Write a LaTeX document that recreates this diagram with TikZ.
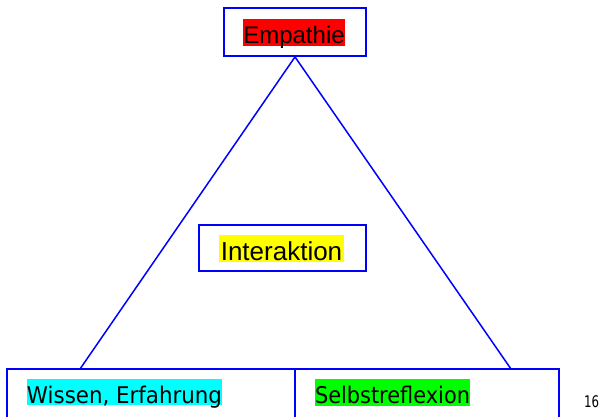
\documentclass[tikz,border=0pt]{standalone}
\usepackage{fontspec}
\setmainfont{Liberation Sans}
\newfontfamily\tahfont{DejaVu Sans}
\definecolor{pcyan}{RGB}{0,255,255}
\definecolor{pgreen}{RGB}{0,255,0}
\definecolor{pred}{RGB}{255,0,0}
\definecolor{pyellow}{RGB}{255,255,0}
\definecolor{pblue}{RGB}{0,0,255}
\begin{document}
\begin{tikzpicture}[x=1pt,y=-1pt,
  frame/.style={draw=pblue, line width=1.8pt, inner sep=0pt},
  hl/.style={inner xsep=0pt, inner ysep=0pt, text=black},
  edge/.style={draw=pblue, line width=1.5pt}]
\useasboundingbox (0,0) rectangle (601,416);
\clip (0,0) rectangle (601,416);
% frames
\node[frame, minimum width=142pt, minimum height=48pt] (empbox) at (295,32) {};
\node[frame, minimum width=167pt, minimum height=46pt] (intbox) at (282.5,248) {};
\node[frame, minimum width=288pt, minimum height=49pt] (leftbox) at (151,393.5) {};
\node[frame, minimum width=264pt, minimum height=49pt] (rightbox) at (427,393.5) {};
% triangle sides
\coordinate (L) at (80,369);
\coordinate (R) at (511,369);
\draw[edge] (empbox.south) -- (L);
\draw[edge] (empbox.south) -- (R);
% highlighted texts
\node[hl, fill=pred, font=\fontsize{24}{24}\selectfont, text height=24pt, text depth=3pt] (emp) at (294,32.5) {Empathie};
\node[hl, fill=pyellow, minimum width=125pt, font=\fontsize{26}{26}\selectfont, text height=25pt, text depth=2pt] (int) at (281.5,248.5) {Interaktion};
\node[hl, fill=pcyan, font=\tahfont\fontsize{23}{23}\selectfont, text height=24pt, text depth=2pt] (wis) at (124.5,392) {\resizebox{195pt}{\height}{Wissen, Erfahrung}};
\node[hl, fill=pgreen, font=\tahfont\fontsize{23}{23}\selectfont, text height=24pt, text depth=3pt] (sel) at (392.5,392.5) {\resizebox{155pt}{\height}{Selbstreflexion}};
\node[font=\tahfont\fontsize{16}{16}\selectfont, inner sep=0pt, anchor=base] (pg) at (591.5,407) {\resizebox{15pt}{\height}{16}};
\end{tikzpicture}
\end{document}
